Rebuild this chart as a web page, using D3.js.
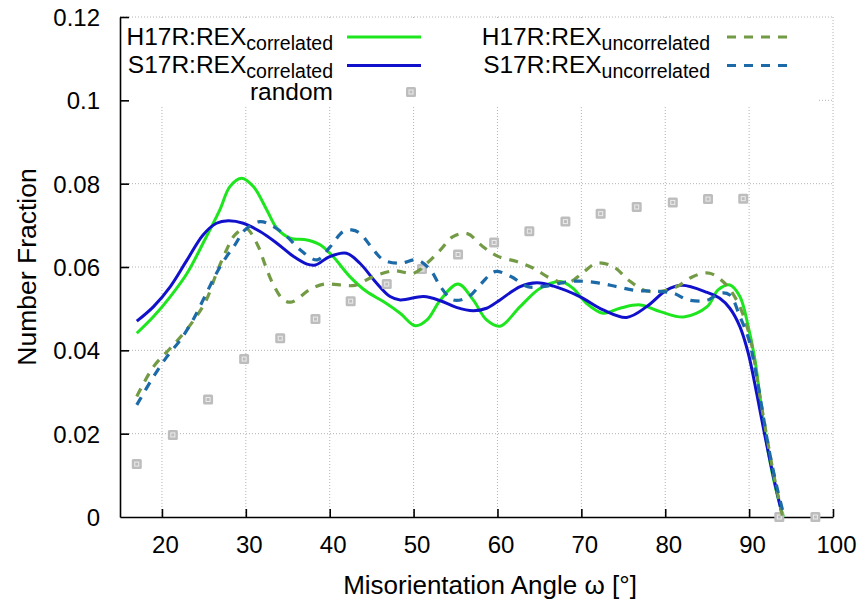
<!DOCTYPE html>
<html>
<head>
<meta charset="utf-8">
<script src="https://cdn.jsdelivr.net/npm/d3@7"></script>
<style>
  html, body { margin: 0; padding: 0; background: #fff; }
  svg { display: block; }
  text { font-family: "Liberation Sans", Arial, sans-serif; fill: #000; }
</style>
</head>
<body>
<svg id="chart" width="862" height="603"></svg>
<script>
// Axis ticks
const xTicks = [20, 30, 40, 50, 60, 70, 80, 90, 100];
const yTicks = [0, 0.02, 0.04, 0.06, 0.08, 0.1, 0.12];
const yTickLabels = ["0", "0.02", "0.04", "0.06", "0.08", "0.1", "0.12"];

// Random (untextured) reference distribution
const randomAngle = [17.0, 21.3, 25.5, 29.8, 34.1, 38.3, 42.5, 46.8, 51.0, 55.3,
                     59.6, 63.8, 68.1, 72.3, 76.6, 80.9, 85.1, 89.3, 93.6, 97.9];
const randomFraction = [0.0127, 0.0197, 0.0282, 0.0379, 0.0429, 0.0475, 0.0518, 0.0559, 0.0595, 0.0630,
                        0.0659, 0.0686, 0.0709, 0.0728, 0.0744, 0.0755, 0.0763, 0.0764, 0, 0];

// [angle, fraction] pairs for each distribution
const h17rCorrelated = [
  [17.0,0.0441],[19.0,0.0481],[21.0,0.0529],[23.0,0.0585],[24.9,0.0657],[26.9,0.0737],
  [28.1,0.0793],[29.5,0.0813],[30.9,0.0793],[32.5,0.0737],[33.7,0.0693],[35.3,0.0669],
  [37.3,0.0665],[38.9,0.0653],[40.4,0.0625],[42.4,0.0577],[44.4,0.0541],[46.4,0.0517],
  [48.4,0.0489],[50.2,0.0459],[51.6,0.0473],[53.2,0.0521],[55.3,0.0559],[57.1,0.0521],
  [58.7,0.0473],[60.3,0.0458],[62.7,0.0505],[65.1,0.0549],[67.5,0.0565],[69.0,0.0549],
  [70.6,0.0513],[72.6,0.0489],[74.6,0.0501],[77.0,0.0509],[79.4,0.0493],[82.2,0.0480],
  [85.0,0.0505],[86.3,0.0545],[87.7,0.0557],[88.9,0.0529],[89.9,0.0457],[90.7,0.0377],
  [91.5,0.0257],[92.3,0.0153],[93.3,0.0057],[94.1,0]
];
const s17rCorrelated = [
  [17.0,0.0470],[19.0,0.0505],[21.0,0.0553],[23.0,0.0617],[24.9,0.0677],[26.5,0.0705],
  [27.9,0.0711],[29.7,0.0705],[31.7,0.0685],[33.7,0.0657],[35.7,0.0625],[37.3,0.0607],
  [38.3,0.0605],[40.0,0.0625],[42.0,0.0633],[43.6,0.0609],[45.6,0.0561],[47.2,0.0529],
  [48.4,0.0521],[51.2,0.0529],[53.2,0.0519],[55.1,0.0503],[57.1,0.0495],[58.7,0.0501],
  [60.3,0.0521],[62.7,0.0553],[64.7,0.0562],[66.7,0.0554],[69.8,0.0529],[72.6,0.0497],
  [75.4,0.0479],[77.8,0.0505],[80.2,0.0545],[82.0,0.0556],[85.0,0.0539],[86.5,0.0525],
  [87.7,0.0501],[88.9,0.0457],[89.9,0.0393],[90.9,0.0297],[91.9,0.0193],[92.9,0.0097],
  [94.0,0]
];
const h17rUncorrelated = [
  [17.0,0.0289],[19.0,0.0361],[21.0,0.0405],[22.6,0.0441],[24.1,0.0481],[25.3,0.0521],
  [26.5,0.0585],[27.7,0.0641],[28.7,0.0677],[30.0,0.0693],[31.4,0.0653],[32.3,0.0605],
  [33.2,0.0561],[34.5,0.0521],[35.5,0.0516],[37.7,0.0547],[39.4,0.0559],[41.2,0.0557],
  [43.0,0.0556],[45.2,0.0577],[47.7,0.0591],[50.0,0.0585],[51.6,0.0609],[53.2,0.0641],
  [54.7,0.0673],[56.4,0.0680],[58.2,0.0650],[60.0,0.0626],[62.3,0.0613],[64.3,0.0597],
  [66.3,0.0573],[68.3,0.0561],[70.1,0.0585],[71.8,0.0609],[73.8,0.0601],[75.6,0.0569],
  [77.4,0.0545],[79.4,0.0541],[81.4,0.0553],[83.4,0.0578],[85.3,0.0585],[87.1,0.0561],
  [88.5,0.0521],[89.5,0.0473],[90.3,0.0413],[91.1,0.0313],[91.9,0.0217],[92.9,0.0105],
  [94.0,0]
];
const s17rUncorrelated = [
  [17.0,0.0269],[19.0,0.0337],[20.6,0.0385],[22.2,0.0425],[23.7,0.0473],[25.3,0.0537],
  [26.5,0.0585],[27.7,0.0625],[28.7,0.0653],[29.9,0.0689],[31.7,0.0709],[33.3,0.0697],
  [34.9,0.0673],[36.5,0.0641],[38.5,0.0617],[40.0,0.0647],[41.6,0.0685],[42.6,0.0689],
  [43.6,0.0681],[45.0,0.0647],[46.4,0.0617],[48.4,0.0609],[50.4,0.0617],[52.0,0.0593],
  [53.2,0.0553],[54.7,0.0521],[56.5,0.0528],[58.1,0.0561],[59.7,0.0589],[61.6,0.0577],
  [63.6,0.0553],[65.9,0.0554],[68.1,0.0564],[69.8,0.0566],[72.0,0.0562],[74.2,0.0553],
  [76.4,0.0544],[78.6,0.0542],[81.0,0.0537],[82.7,0.0521],[85.0,0.0520],[86.5,0.0537],
  [87.7,0.0533],[88.9,0.0481],[89.9,0.0430],[90.7,0.0358],[91.5,0.0265],[92.3,0.0169],
  [93.3,0.0073],[94.2,0]
];

const series = [
  { name: "H17R:REX", sub: "correlated",   data: h17rCorrelated,   color: "#1ee61e", dash: null,  width: 3 },
  { name: "S17R:REX", sub: "correlated",   data: s17rCorrelated,   color: "#1111cc", dash: null,  width: 3 },
  { name: "H17R:REX", sub: "uncorrelated", data: h17rUncorrelated, color: "#739a44", dash: "9,8", width: 3.2 },
  { name: "S17R:REX", sub: "uncorrelated", data: s17rUncorrelated, color: "#1c6aa8", dash: "9,8", width: 3.2 }
];

const svg = d3.select("#chart");
const plot = { left: 120, right: 833, top: 17, bottom: 517 };

const x = d3.scaleLinear().domain([15, 100]).range([plot.left, plot.right]);
const y = d3.scaleLinear().domain([0, 0.12]).range([plot.bottom, plot.top]);

// Dotted grid
const grid = svg.append("g").attr("stroke", "#b4b4b4").attr("stroke-width", 1)
  .attr("stroke-dasharray", "1,2");
grid.selectAll("line.vx").data(xTicks).join("line")
  .attr("x1", d => x(d)).attr("x2", d => x(d))
  .attr("y1", plot.top).attr("y2", plot.bottom);
grid.selectAll("line.hy").data(yTicks.filter(d => d > 0)).join("line")
  .attr("x1", plot.left).attr("x2", plot.right)
  .attr("y1", d => y(d)).attr("y2", d => y(d));

// Opaque key background
svg.append("rect").attr("x", 122).attr("y", 19).attr("width", 695).attr("height", 87)
  .attr("fill", "#fff");

// Axes with inward ticks
const fontTick = 24;
const yAxis = svg.append("g").attr("transform", `translate(${plot.left},0)`)
  .call(d3.axisLeft(y).tickValues(yTicks).tickFormat((d, i) => yTickLabels[i])
    .tickSizeInner(-9).tickSizeOuter(0).tickPadding(20));
const xAxis = svg.append("g").attr("transform", `translate(0,${plot.bottom})`)
  .call(d3.axisBottom(x).tickValues(xTicks).tickFormat(d3.format("d"))
    .tickSizeInner(-8).tickSizeOuter(0).tickPadding(19));
[yAxis, xAxis].forEach(g => {
  g.select(".domain").attr("stroke", "#000").attr("stroke-width", 1.6);
  g.selectAll(".tick line").attr("stroke", "#000").attr("stroke-width", 1.6);
  g.selectAll(".tick text").attr("font-size", fontTick)
    .attr("font-family", "'Liberation Sans', Arial, sans-serif").attr("fill", "#000");
});
yAxis.selectAll(".tick text").attr("dy", "0.36em");
xAxis.selectAll(".tick text").attr("dx", 3);
// hide the tick line sitting on the corner
yAxis.selectAll(".tick line").filter(d => d === 0).remove();

// Axis titles
svg.append("text").attr("x", 490).attr("y", 594).attr("text-anchor", "middle")
  .attr("font-size", 26).text("Misorientation Angle ω [°]");
svg.append("text").attr("transform", `translate(36,${(plot.top + plot.bottom) / 2}) rotate(-90)`)
  .attr("text-anchor", "middle").attr("font-size", 26.5).text("Number Fraction");

// Curves
const line = d3.line().x(d => x(d[0])).y(d => y(d[1])).curve(d3.curveCatmullRom.alpha(0.5));

function drawMarker(g, cx, cy) {
  g.append("rect").attr("x", cx - 5).attr("y", cy - 5).attr("width", 10).attr("height", 10)
    .attr("rx", 1.5).attr("fill", "#bdbdbd");
  g.append("rect").attr("x", cx - 2).attr("y", cy - 2).attr("width", 4).attr("height", 4)
    .attr("fill", "none").attr("stroke", "#ececec").attr("stroke-width", 1);
}

function drawSeries(s) {
  svg.append("path").datum(s.data).attr("d", line)
    .attr("fill", "none").attr("stroke", s.color).attr("stroke-width", s.width)
    .attr("stroke-dasharray", s.dash).attr("stroke-linejoin", "round");
}

drawSeries(series[0]);
drawSeries(series[1]);
const randomG = svg.append("g");
randomAngle.forEach((a, i) => drawMarker(randomG, x(a), y(randomFraction[i])));
drawSeries(series[2]);
drawSeries(series[3]);

// Key
const keyRows = [
  { s: series[0], textEnd: 333, x1: 347, x2: 421, base: 44.5 },
  { s: series[1], textEnd: 333, x1: 347, x2: 421, base: 73 },
  { s: series[2], textEnd: 710, x1: 727, x2: 791, base: 44.5 },
  { s: series[3], textEnd: 710, x1: 727, x2: 791, base: 73 }
];
keyRows.forEach(r => {
  const t = svg.append("text").attr("x", r.textEnd).attr("y", r.base)
    .attr("text-anchor", "end").attr("font-size", 24.5);
  t.append("tspan").text(r.s.name);
  t.append("tspan").attr("dy", 5).attr("font-size", 19.5).text(r.s.sub);
  svg.append("line").attr("x1", r.x1).attr("x2", r.x2)
    .attr("y1", r.base - 7.5).attr("y2", r.base - 7.5)
    .attr("stroke", r.s.color).attr("stroke-width", r.s.width)
    .attr("stroke-dasharray", r.s.dash);
});
svg.append("text").attr("x", 333).attr("y", 100).attr("text-anchor", "end")
  .attr("font-size", 24.5).text("random");
drawMarker(svg.append("g"), 411, 92);
</script>
</body>
</html>
